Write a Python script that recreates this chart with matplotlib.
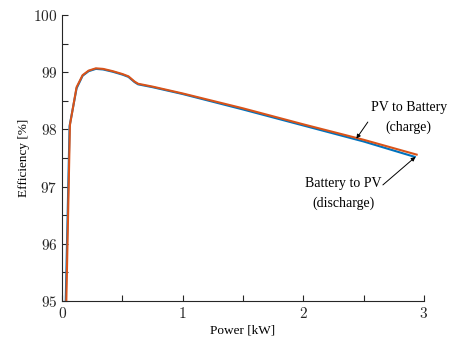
import matplotlib
matplotlib.use("Agg")
import matplotlib.pyplot as plt
from matplotlib.ticker import MultipleLocator, FuncFormatter

plt.rcParams["font.family"] = "Liberation Serif"
plt.rcParams["mathtext.fontset"] = "cm"

# efficiency curves vs. power
power_charge = [0.035, 0.065, 0.12, 0.17, 0.22, 0.28, 0.34, 0.42, 0.50, 0.55,
                0.60, 0.63, 0.75, 1.0, 1.5, 2.0, 2.5, 2.94]
eff_charge = [95.0, 98.08, 98.74, 98.95, 99.03, 99.07, 99.06, 99.02, 98.97, 98.93,
              98.84, 98.80, 98.75, 98.63, 98.37, 98.09, 97.82, 97.56]

power_discharge = [0.03, 0.062, 0.12, 0.17, 0.22, 0.28, 0.34, 0.42, 0.50, 0.55,
                   0.60, 0.63, 0.75, 1.0, 1.5, 2.0, 2.5, 2.925]
eff_discharge = [95.0, 98.06, 98.72, 98.94, 99.02, 99.06, 99.05, 99.01, 98.96, 98.92,
                 98.83, 98.79, 98.74, 98.62, 98.35, 98.07, 97.79, 97.52]

xticks = [0, 1, 2, 3]
yticks = [95, 96, 97, 98, 99, 100]

blue = "#0072BD"
orange = "#D95319"

fig = plt.figure(figsize=(4.5, 3.37), dpi=100)
ax = fig.add_axes([0.138, 0.107, 0.804, 0.848])

ax.plot(power_discharge, eff_discharge, color=blue, lw=1.5)
ax.plot(power_charge, eff_charge, color=orange, lw=1.5)

ax.set_xlim(0, 3)
ax.set_ylim(95, 100)
ax.set_xticks(xticks)
ax.set_yticks(yticks)
ax.xaxis.set_minor_locator(MultipleLocator(0.5))
ax.yaxis.set_minor_locator(MultipleLocator(0.5))
fmt = FuncFormatter(lambda v, p: f"${v:g}$")
ax.xaxis.set_major_formatter(fmt)
ax.yaxis.set_major_formatter(fmt)
ax.tick_params(which="both", direction="in", length=4, width=0.8,
               colors="#262626", labelsize=11)
ax.tick_params(axis="x", pad=4)

for s in ("top", "right"):
    ax.spines[s].set_visible(False)
for s in ("left", "bottom"):
    ax.spines[s].set_color("#262626")
    ax.spines[s].set_linewidth(0.8)

ax.set_xlabel("Power [kW]", fontsize=9.5, labelpad=2)
ax.set_ylabel("Efficiency [%]", fontsize=9.5, labelpad=2)

arrow = dict(arrowstyle="-|>", color="black", lw=0.7, mutation_scale=6,
             shrinkA=0, shrinkB=0)

ax.text(2.875, 98.21, "PV to Battery\n(charge)", ha="center", va="center",
        fontsize=10, linespacing=1.6)
ax.annotate("", xy=(2.44, 97.84), xytext=(2.535, 98.13), arrowprops=arrow)

ax.text(2.33, 96.88, "Battery to PV\n(discharge)", ha="center", va="center",
        fontsize=10, linespacing=1.6)
ax.annotate("", xy=(2.93, 97.52), xytext=(2.66, 97.03), arrowprops=arrow)

fig.savefig("out.png", dpi=100)
